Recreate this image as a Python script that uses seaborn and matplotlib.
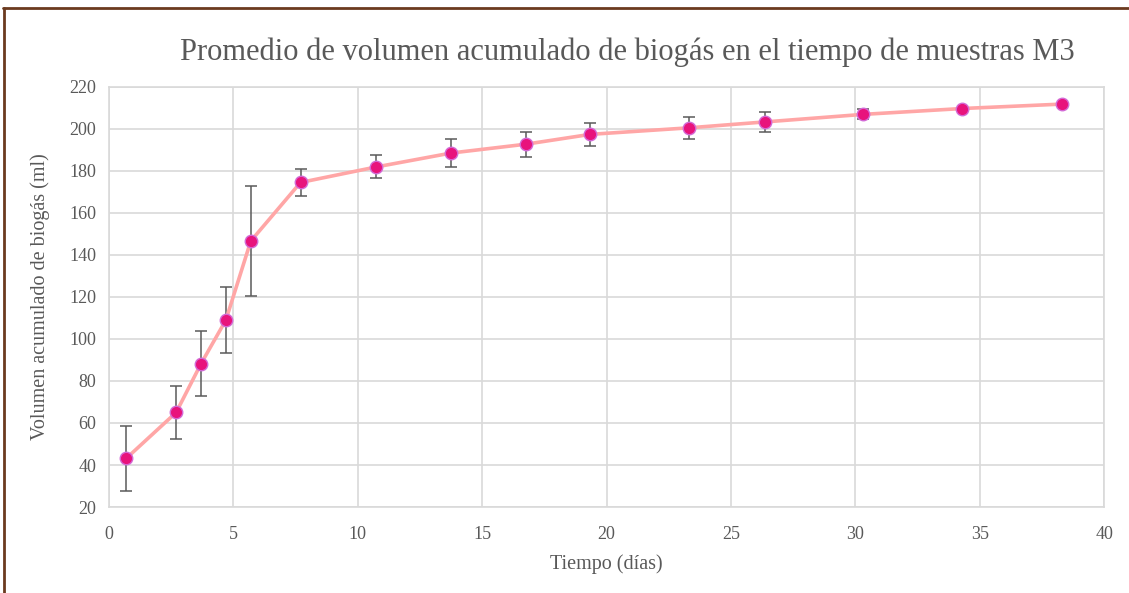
import matplotlib
matplotlib.use("Agg")
import matplotlib.pyplot as plt
from matplotlib.lines import Line2D
import seaborn as sns
import pandas as pd

# Data
tiempo = [0.7, 2.7, 3.7, 4.7, 5.7, 7.7, 10.75, 13.75, 16.75, 19.35, 23.3, 26.35, 30.3, 34.3, 38.3]
volumen = [43.2, 65.0, 88.2, 109.0, 146.6, 174.5, 181.9, 188.5, 192.7, 197.4, 200.5, 203.3, 206.9, 209.7, 211.8]
error = [15.5, 12.6, 15.4, 15.5, 26.3, 6.3, 5.5, 6.6, 6.0, 5.4, 5.2, 4.8, 2.4, 0.0, 0.0]

title = "Promedio de volumen acumulado de biogás en el tiempo de muestras M3"
xlabel = "Tiempo (días)"
ylabel = "Volumen acumulado de biogás (ml)"

df = pd.DataFrame({"t": tiempo, "v": volumen, "e": error})

sns.set_theme(style="whitegrid")
plt.rcParams["font.family"] = ["Liberation Serif", "DejaVu Serif"]

fig = plt.figure(figsize=(11.29, 5.93), dpi=100)
ax = fig.add_axes([0.0965, 0.145, 0.8815, 0.7085])

text_color = "#595959"
grid_color = "#d9d9d9"

ax.errorbar(df["t"], df["v"], yerr=df["e"], fmt="none", ecolor="#5a5a5a",
            elinewidth=1.1, capsize=4.5, capthick=1.1, zorder=2)
sns.lineplot(data=df, x="t", y="v", ax=ax, color="#ffa6a6", linewidth=2.6,
             marker="o", markersize=9, markerfacecolor="#e8137c",
             markeredgecolor="#d36ad6", markeredgewidth=1.0, zorder=3)

ax.set_xlim(0, 40)
ax.set_ylim(20, 220)
ax.set_xticks(range(0, 41, 5))
ax.set_yticks(range(20, 221, 20))
ax.grid(True, color=grid_color, linewidth=1.2)
for s in ax.spines.values():
    s.set_color(grid_color)
    s.set_linewidth(1.2)
ax.tick_params(axis="both", colors=text_color, labelsize=13, length=0)
ax.tick_params(axis="x", pad=14)
ax.tick_params(axis="y", pad=9)
ax.set_xlabel(xlabel, fontsize=14.5, color=text_color, labelpad=8)
ax.set_ylabel(ylabel, fontsize=14.5, color=text_color, labelpad=14)

fig.text(0.556, 0.912, title, ha="center", va="center", fontsize=22, color=text_color)

# outer brown frame (top and left)
fig.add_artist(Line2D([0.003, 1.0], [0.986, 0.986], transform=fig.transFigure,
                      color="#6b3a1f", linewidth=2))
fig.add_artist(Line2D([0.0035, 0.0035], [0.0, 0.986], transform=fig.transFigure,
                      color="#6b3a1f", linewidth=2))

fig.savefig("out.png", dpi=100)
